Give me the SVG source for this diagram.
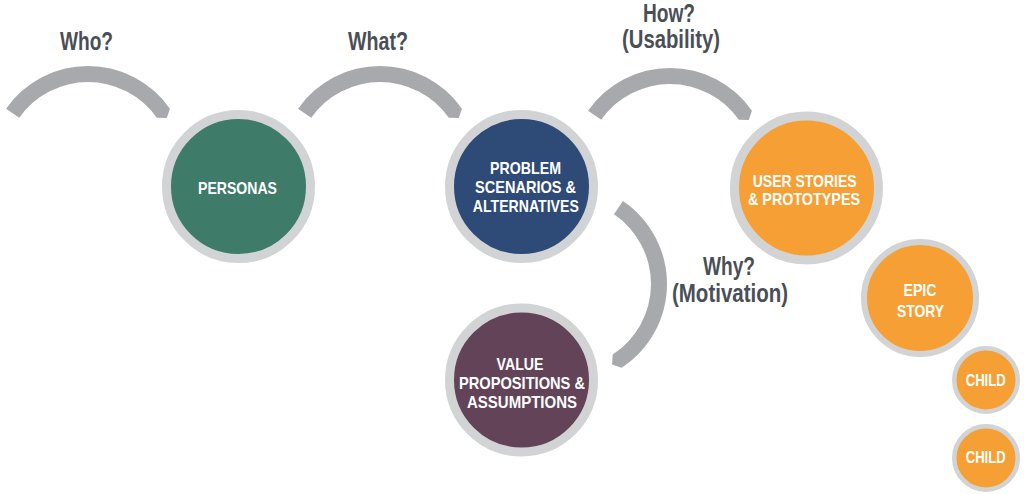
<svg xmlns="http://www.w3.org/2000/svg" width="1024" height="495" viewBox="0 0 1024 495">
<style>
.arc{fill:#a7a9ac}
.ring{stroke:#d1d3d4}
.q{font-family:"Liberation Sans",Arial,sans-serif;font-weight:bold;font-size:25px;fill:#4a4f57;text-anchor:middle}
.t{font-family:"Liberation Sans",Arial,sans-serif;font-weight:bold;font-size:17px;fill:#ffffff;text-anchor:middle}
</style>
<rect width="1024" height="495" fill="#ffffff"/>
<g id="connectors">
<path class="arc" d="M 6.08,108.64 A 100 100 0 0 1 169.92,108.64 L 166.8,118.1 L 156.81,117.82 A 84 84 0 0 0 19.19,117.82 Z"/>
<path class="arc" d="M 298.08,108.64 A 100 100 0 0 1 461.92,108.64 L 458.8,118.1 L 448.81,117.82 A 84 84 0 0 0 311.19,117.82 Z"/>
<path class="arc" d="M 588.08,110.64 A 100 100 0 0 1 751.92,110.64 L 748.8,120.1 L 738.81,119.82 A 84 84 0 0 0 601.19,119.82 Z"/>
<path class="arc" d="M 622.92,201.10 A 100 100 0 0 1 621.46,367.87 L 612.07,364.43 L 612.75,354.45 A 84 84 0 0 0 613.97,214.36 Z"/>
</g>
<g id="labels">
<text class="q" x="86.5" y="50" textLength="53" lengthAdjust="spacingAndGlyphs">Who?</text>
<text class="q" x="378" y="50" textLength="60" lengthAdjust="spacingAndGlyphs">What?</text>
<text class="q" font-size="23"><tspan x="669" y="22" textLength="52" lengthAdjust="spacingAndGlyphs">How?</tspan><tspan x="671" y="47.5" textLength="98" lengthAdjust="spacingAndGlyphs">(Usability)</tspan></text>
<text class="q" font-size="24"><tspan x="729" y="275" textLength="52" lengthAdjust="spacingAndGlyphs">Why?</tspan><tspan x="730" y="302" textLength="116" lengthAdjust="spacingAndGlyphs">(Motivation)</tspan></text>
</g>
<g id="personas">
<circle class="ring" cx="238.5" cy="186.5" r="72" fill="#3e7b69" stroke-width="9"/>
<text class="t" x="237.5" y="194" textLength="79" lengthAdjust="spacingAndGlyphs">PERSONAS</text>
</g>
<g id="problem">
<circle class="ring" cx="521.5" cy="186.5" r="72" fill="#2e4a77" stroke-width="9"/>
<text class="t" x="525.5" y="174" textLength="71" lengthAdjust="spacingAndGlyphs">PROBLEM</text>
<text class="t" x="525.5" y="193" textLength="101" lengthAdjust="spacingAndGlyphs">SCENARIOS &amp;</text>
<text class="t" x="525.8" y="212" textLength="106" lengthAdjust="spacingAndGlyphs">ALTERNATIVES</text>
</g>
<g id="user-stories">
<circle class="ring" cx="806.5" cy="188" r="72" fill="#f59f35" stroke-width="9"/>
<text class="t" x="804.7" y="187" textLength="104" lengthAdjust="spacingAndGlyphs">USER STORIES</text>
<text class="t" x="804" y="205" textLength="112" lengthAdjust="spacingAndGlyphs">&amp; PROTOTYPES</text>
</g>
<g id="value">
<circle class="ring" cx="521.5" cy="380" r="72" fill="#634357" stroke-width="9"/>
<text class="t" x="520" y="370" textLength="47" lengthAdjust="spacingAndGlyphs">VALUE</text>
<text class="t" x="522" y="389" textLength="126" lengthAdjust="spacingAndGlyphs">PROPOSITIONS &amp;</text>
<text class="t" x="522" y="408" textLength="110" lengthAdjust="spacingAndGlyphs">ASSUMPTIONS</text>
</g>
<g id="epic">
<circle class="ring" cx="920" cy="298" r="56" fill="#f59f35" stroke-width="6"/>
<text class="t" x="920" y="296" textLength="33" lengthAdjust="spacingAndGlyphs">EPIC</text>
<text class="t" x="920.5" y="317" textLength="47" lengthAdjust="spacingAndGlyphs">STORY</text>
</g>
<g id="child1">
<circle class="ring" cx="986" cy="380" r="31.75" fill="#f59f35" stroke-width="4.5"/>
<text class="t" x="985.7" y="386" textLength="40" lengthAdjust="spacingAndGlyphs">CHILD</text>
</g>
<g id="child2">
<circle class="ring" cx="986" cy="458" r="31.75" fill="#f59f35" stroke-width="4.5"/>
<text class="t" x="985.7" y="463" textLength="40" lengthAdjust="spacingAndGlyphs">CHILD</text>
</g>
</svg>
